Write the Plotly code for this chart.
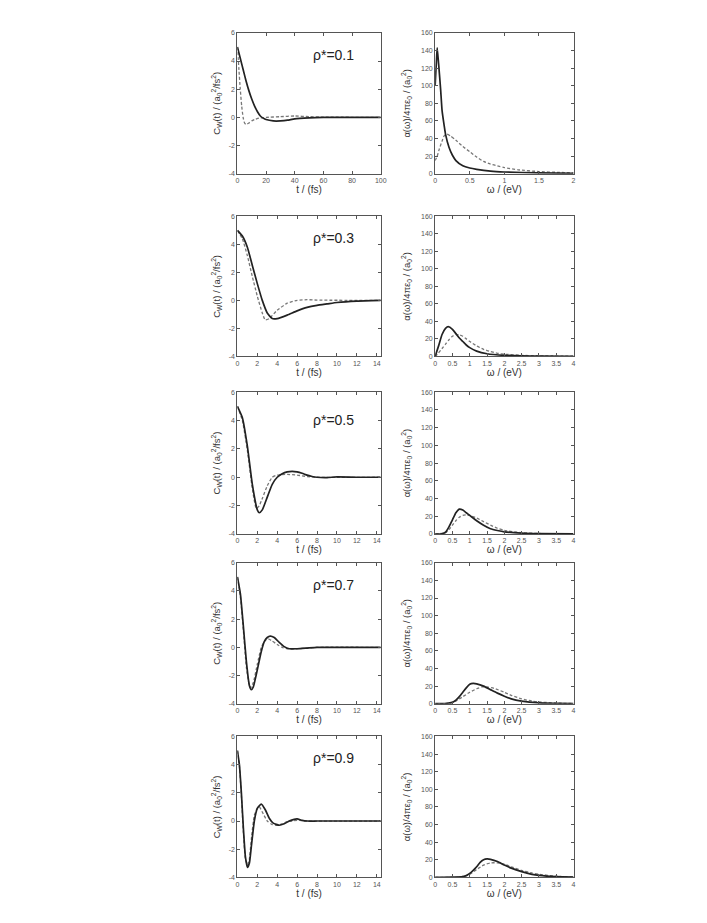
import plotly.graph_objects as go

# ---------------- data ----------------
rho_labels = ["ρ*=0.1", "ρ*=0.3", "ρ*=0.5", "ρ*=0.7", "ρ*=0.9"]

# left column: C_W(t)
t1_solid = [0, 2, 4, 6, 8, 10, 12, 14, 16, 18, 20, 25, 30, 35, 40, 50, 60, 100]
c1_solid = [5, 4.2, 3.4, 2.6, 1.9, 1.3, 0.8, 0.4, 0.1, -0.05, -0.15, -0.25, -0.25, -0.2, -0.1, -0.03, 0, 0]
t1_dash = [0, 1, 2, 3, 4, 5, 6, 8, 10, 12, 15, 20, 30, 40, 50, 60, 100]
c1_dash = [5, 3.5, 2.0, 0.8, 0.0, -0.4, -0.5, -0.4, -0.25, -0.15, -0.05, 0.0, 0.05, 0.1, 0.05, 0.02, 0]

t2_solid = [0, 0.5, 1, 1.5, 2, 2.5, 3, 3.5, 4, 5, 6, 7, 8, 9, 10, 12, 14.4]
c2_solid = [5, 4.6, 3.8, 2.5, 1.2, 0.0, -0.9, -1.3, -1.3, -1.05, -0.75, -0.5, -0.35, -0.25, -0.15, -0.05, 0]
t2_dash = [0, 0.5, 1, 1.5, 2, 2.5, 2.8, 3.2, 4, 5, 6, 7, 8, 14.4]
c2_dash = [5, 4.4, 3.2, 1.7, 0.3, -0.9, -1.4, -1.3, -0.7, -0.2, 0.0, 0.05, 0.02, 0]

t3_solid = [0, 0.5, 1, 1.5, 2, 2.2, 2.5, 3, 3.5, 4, 4.5, 5, 5.5, 6, 6.5, 7, 7.5, 8, 9, 10, 12, 14.4]
c3_solid = [5, 4.2, 2.2, -0.5, -2.3, -2.5, -2.3, -1.4, -0.5, 0.0, 0.25, 0.38, 0.42, 0.38, 0.28, 0.15, 0.05, 0.0, -0.02, 0.02, 0, 0]
t3_dash = [0, 0.5, 1, 1.5, 1.9, 2.2, 2.5, 3, 3.5, 4, 5, 6, 7, 8, 14.4]
c3_dash = [5, 4.0, 1.9, -0.8, -2.2, -2.0, -1.5, -0.6, 0.0, 0.15, 0.2, 0.15, 0.05, 0, 0]

t4_solid = [0, 0.3, 0.6, 0.9, 1.2, 1.4, 1.6, 2.0, 2.4, 2.7, 3.0, 3.3, 3.7, 4.2, 4.7, 5.2, 6, 7, 8, 10, 14.4]
c4_solid = [5, 3.8, 1.5, -1.0, -2.7, -3.0, -2.8, -1.6, -0.3, 0.4, 0.7, 0.8, 0.7, 0.35, 0.05, -0.1, -0.1, -0.05, 0, 0, 0]
t4_dash = [0, 0.3, 0.6, 0.9, 1.2, 1.35, 1.6, 2.0, 2.4, 2.8, 3.1, 3.5, 4.0, 4.5, 5, 6, 7, 8, 14.4]
c4_dash = [5, 3.6, 1.2, -1.4, -2.7, -2.85, -2.5, -1.2, 0.0, 0.5, 0.6, 0.45, 0.2, 0.0, -0.1, -0.1, -0.05, 0, 0]

t5_solid = [0, 0.2, 0.4, 0.6, 0.8, 1.0, 1.2, 1.4, 1.7, 2.0, 2.4, 2.8, 3.2, 3.6, 4.2, 4.7, 5.2, 5.7, 6, 6.5, 7, 8, 14.4]
c5_solid = [5, 4.0, 2.0, -0.5, -2.5, -3.3, -3.0, -1.8, 0.0, 0.9, 1.2, 0.8, 0.2, -0.15, -0.3, -0.2, 0.0, 0.12, 0.15, 0.05, 0, 0, 0]
t5_dash = [0, 0.2, 0.4, 0.6, 0.8, 1.0, 1.2, 1.4, 1.7, 2.0, 2.2, 2.6, 3.0, 3.5, 4.0, 4.5, 5.0, 5.5, 6, 7, 14.4]
c5_dash = [5, 3.9, 1.8, -0.8, -2.7, -3.1, -2.7, -1.3, 0.4, 0.9, 1.0, 0.5, 0.0, -0.25, -0.3, -0.2, -0.05, 0.0, 0.05, 0, 0]

# right column: alpha(omega)
w1_solid = [0, 0.02, 0.03, 0.05, 0.08, 0.1, 0.13, 0.15, 0.2, 0.25, 0.3, 0.4, 0.5, 0.6, 0.8, 1.0, 1.5, 2.0]
a1_solid = [100, 130, 143, 125, 95, 72, 55, 45, 30, 21, 15, 9, 6.5, 5, 3, 2, 1, 0.5]
w1_dash = [0, 0.03, 0.06, 0.1, 0.13, 0.17, 0.22, 0.3, 0.4, 0.5, 0.6, 0.7, 0.8, 0.9, 1.0, 1.2, 1.5, 1.8, 2.0]
a1_dash = [15, 20, 28, 37, 43, 45, 43, 38, 31, 25, 19, 14, 11, 9, 7, 4.5, 2.5, 1.5, 1]

w2_solid = [0, 0.1, 0.2, 0.3, 0.38, 0.5, 0.6, 0.7, 0.8, 0.9, 1.0, 1.2, 1.5, 2, 2.5, 3, 4]
a2_solid = [0, 12, 25, 32, 34, 31, 26, 21, 17, 13, 10, 6, 3, 1.2, 0.6, 0.3, 0.1]
w2_dash = [0, 0.1, 0.2, 0.3, 0.4, 0.5, 0.6, 0.7, 0.8, 0.9, 1.0, 1.2, 1.4, 1.6, 1.8, 2.0, 2.5, 3, 4]
a2_dash = [0, 4, 9, 14, 19, 23, 25, 24.5, 23, 20, 17, 12, 8, 5.5, 3.5, 2.5, 1.2, 0.6, 0.2]

w3_solid = [0, 0.2, 0.3, 0.4, 0.5, 0.6, 0.7, 0.8, 0.9, 1.0, 1.2, 1.4, 1.6, 1.8, 2.0, 2.5, 3, 4]
a3_solid = [0, 0.3, 2, 8, 16, 24, 28, 27, 24, 21, 15, 10, 6, 4, 2.5, 1, 0.4, 0.1]
w3_dash = [0, 0.3, 0.4, 0.5, 0.6, 0.7, 0.8, 0.9, 1.0, 1.2, 1.4, 1.6, 1.8, 2.0, 2.5, 3, 4]
a3_dash = [0, 1.5, 5, 10, 15, 19, 21, 21.5, 21, 18, 14, 10, 6.5, 4, 1.5, 0.6, 0.2]

w4_solid = [0, 0.3, 0.5, 0.6, 0.7, 0.8, 0.9, 1.0, 1.1, 1.2, 1.4, 1.6, 1.8, 2.0, 2.2, 2.5, 3, 3.5, 4]
a4_solid = [0, 0.2, 1.5, 4, 8, 13, 18, 22, 23, 22.5, 20, 16, 12, 8.5, 5.5, 3, 1, 0.4, 0.1]
w4_dash = [0, 0.4, 0.6, 0.8, 1.0, 1.2, 1.35, 1.5, 1.7, 2.0, 2.2, 2.5, 2.8, 3, 3.5, 4]
a4_dash = [0, 0.5, 3, 8, 13, 17, 19, 19, 17.5, 13, 9.5, 5.5, 3, 2, 0.7, 0.2]

w5_solid = [0, 0.5, 0.8, 0.9, 1.0, 1.1, 1.2, 1.3, 1.4, 1.5, 1.6, 1.8, 2.0, 2.2, 2.5, 2.8, 3.0, 3.5, 4]
a5_solid = [0, 0.3, 1, 2, 4.5, 8, 12, 17, 20, 21, 20.5, 18, 14, 10.5, 6.5, 3.5, 2.3, 0.8, 0.3]
w5_dash = [0, 0.6, 0.8, 1.0, 1.2, 1.4, 1.6, 1.8, 2.0, 2.2, 2.5, 2.8, 3.0, 3.5, 4]
a5_dash = [0, 0.2, 1, 3.5, 9, 14, 16.5, 16.5, 15, 12, 8, 5, 3.5, 1.3, 0.4]

left_data = [
    (t1_solid, c1_solid, t1_dash, c1_dash),
    (t2_solid, c2_solid, t2_dash, c2_dash),
    (t3_solid, c3_solid, t3_dash, c3_dash),
    (t4_solid, c4_solid, t4_dash, c4_dash),
    (t5_solid, c5_solid, t5_dash, c5_dash),
]
right_data = [
    (w1_solid, a1_solid, w1_dash, a1_dash),
    (w2_solid, a2_solid, w2_dash, a2_dash),
    (w3_solid, a3_solid, w3_dash, a3_dash),
    (w4_solid, a4_solid, w4_dash, a4_dash),
    (w5_solid, a5_solid, w5_dash, a5_dash),
]

left_x_ticks_row1 = [0, 20, 40, 60, 80, 100]
left_x_ticks = [0, 2, 4, 6, 8, 10, 12, 14]
left_y_ticks = [-4, -2, 0, 2, 4, 6]
right_x_ticks_row1 = [0, 0.5, 1, 1.5, 2]
right_x_labels_row1 = ["0", "0.5", "1", "1.5", "2"]
right_x_ticks = [0, 0.5, 1, 1.5, 2, 2.5, 3, 3.5, 4]
right_x_labels = ["0", "0.5", "1", "1.5", "2", "2.5", "3", "3.5", "4"]
right_y_ticks = [0, 20, 40, 60, 80, 100, 120, 140, 160]

# ---------------- layout ----------------
W, H = 707, 923
FONT = "Liberation Sans, Arial, sans-serif"
row_px = [(21, 163), (206, 347), (383, 526), (555, 697), (730, 872)]
label_px = [43, 228, 411, 577, 752]
left_px = (230, 375)
right_px = (430, 570)

def dom_x(p):
    return [p[0] / W, p[1] / W]

def dom_y(p):
    return [1 - p[1] / H, 1 - p[0] / H]

fig = go.Figure()
layout = dict(
    width=W, height=H,
    margin=dict(l=0, r=0, t=0, b=0),
    paper_bgcolor="white", plot_bgcolor="white",
    showlegend=False,
    font=dict(family=FONT, color="#333"),
)

axis_common = dict(
    showline=True, linecolor="#555", linewidth=1, mirror="ticks",
    ticks="inside", ticklen=3, tickwidth=1, tickcolor="#555",
    showgrid=False, zeroline=False,
    tickfont=dict(size=7, family=FONT, color="#555"),
)

annotations = []
n = 0
for r in range(5):
    for c in range(2):
        n += 1
        xa = "xaxis" if n == 1 else f"xaxis{n}"
        ya = "yaxis" if n == 1 else f"yaxis{n}"
        xr = "x" if n == 1 else f"x{n}"
        yr = "y" if n == 1 else f"y{n}"
        if c == 0:
            xs, ys, xd, yd = left_data[r]
            if r == 0:
                xrange, xt, xtl = [0, 100], left_x_ticks_row1, [str(v) for v in left_x_ticks_row1]
            else:
                xrange, xt, xtl = [0, 14.4], left_x_ticks, [str(v) for v in left_x_ticks]
            yrange, yt = [-4, 6], left_y_ticks
            xtitle = "t / (fs)"
            ytitle = "C<sub>W</sub>(t) / (a<sub>0</sub><sup>2</sup>/fs<sup>2</sup>)"
            xpx = left_px
            ystand = 6
        else:
            xs, ys, xd, yd = right_data[r]
            if r == 0:
                xrange, xt, xtl = [0, 2], right_x_ticks_row1, right_x_labels_row1
            else:
                xrange, xt, xtl = [0, 4], right_x_ticks, right_x_labels
            yrange, yt = [0, 160], right_y_ticks
            xtitle = "ω / (eV)"
            ytitle = "α(ω)/4πε<sub>0</sub> / (a<sub>0</sub><sup>2</sup>)"
            xpx = right_px
            ystand = 8

        layout[xa] = dict(axis_common, domain=dom_x(xpx), range=xrange, anchor=yr,
                          tickvals=xt, ticktext=xtl,
                          title=dict(text=xtitle, font=dict(size=10, family=FONT, color="#333"), standoff=1))
        layout[ya] = dict(axis_common, domain=dom_y(row_px[r]), range=yrange, anchor=xr,
                          tickvals=yt, ticktext=[str(v) for v in yt],
                          title=dict(text=ytitle, font=dict(size=9.5, family=FONT, color="#333"), standoff=ystand))

        fig.add_trace(go.Scatter(x=xd, y=yd, xaxis=xr, yaxis=yr, mode="lines",
                                 line=dict(color="#777", width=1.3, dash="3px,2px", shape="spline", smoothing=0.5)))
        fig.add_trace(go.Scatter(x=xs, y=ys, xaxis=xr, yaxis=yr, mode="lines",
                                 line=dict(color="#222", width=1.7, shape="spline", smoothing=0.5)))

    annotations.append(dict(text=rho_labels[r], x=327 / W, y=1 - label_px[r] / H,
                            xref="paper", yref="paper", showarrow=False,
                            xanchor="center", yanchor="middle",
                            font=dict(size=14, family=FONT, color="#222")))

layout["annotations"] = annotations
fig.update_layout(**layout)
fig.write_html("out.html")
